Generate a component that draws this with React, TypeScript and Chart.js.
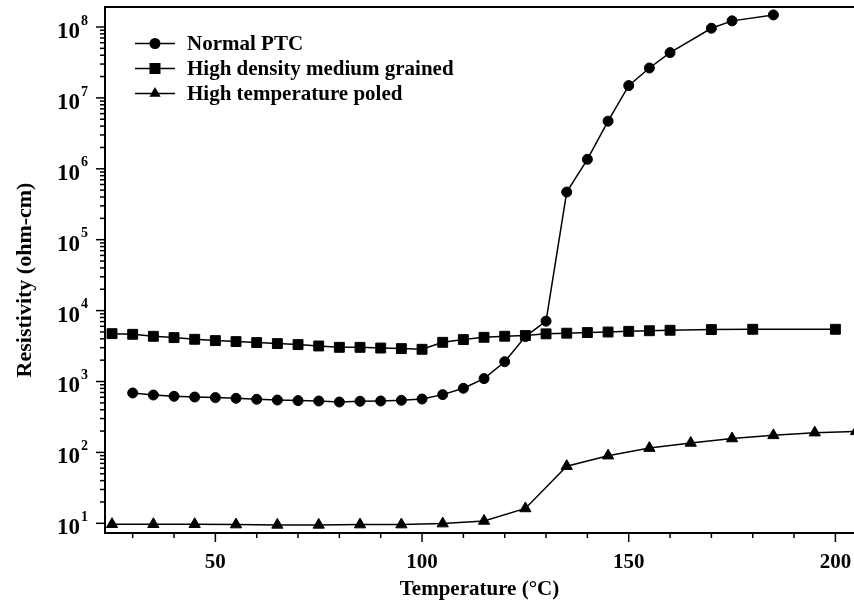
import React, { useEffect, useRef } from 'react';
import { Chart, registerables } from 'chart.js';

Chart.register(...registerables);

// ---------- data ----------
const normalTemps = [30, 35, 40, 45, 50, 55, 60, 65, 70, 75, 80, 85, 90, 95, 100, 105, 110, 115, 120, 125, 130, 135, 140, 145, 150, 155, 160, 170, 175, 185];
const normalPTC = [689, 645, 618, 604, 593, 579, 561, 548, 538, 531, 514, 526, 531, 543, 566, 653, 802, 1099, 1900, 4300, 7100, 4.7e5, 1.36e6, 4.7e6, 1.49e7, 2.64e7, 4.35e7, 9.6e7, 1.22e8, 1.48e8];

const densityTemps = [25, 30, 35, 40, 45, 50, 55, 60, 65, 70, 75, 80, 85, 90, 95, 100, 105, 110, 115, 120, 125, 130, 135, 140, 145, 150, 155, 160, 170, 180, 200];
const highDensity = [4730, 4630, 4340, 4160, 3940, 3775, 3655, 3540, 3425, 3315, 3170, 3035, 3035, 2965, 2910, 2845, 3570, 3900, 4200, 4350, 4450, 4700, 4800, 4900, 4990, 5100, 5200, 5280, 5400, 5450, 5450];

const poledTemps = [25, 35, 45, 55, 65, 75, 85, 95, 105, 115, 125, 135, 145, 155, 165, 175, 185, 195, 205];
const highTempPoled = [9.7, 9.7, 9.7, 9.6, 9.5, 9.5, 9.6, 9.6, 9.9, 10.8, 16.2, 64, 90, 115, 136, 157, 174, 190, 198];

const seriesNames = ['Normal PTC', 'High density medium grained', 'High temperature poled'];
const seriesShapes = ['circle', 'rect', 'triangle'];

const xTickValues = [30, 40, 50, 60, 70, 80, 90, 100, 110, 120, 130, 140, 150, 160, 170, 180, 190, 200];
const xLabelValues = [50, 100, 150, 200];
const yExponents = [1, 2, 3, 4, 5, 6, 7, 8];

const xTitle = 'Temperature (°C)';
const yTitle = 'Resistivity (ohm-cm)';

const FONT = '"Liberation Serif", "Times New Roman", serif';

const toPoints = (xs: number[], ys: number[]) => xs.map((x, i) => ({ x, y: ys[i] }));

function drawShape(ctx: CanvasRenderingContext2D, shape: string, x: number, y: number) {
  ctx.beginPath();
  if (shape === 'circle') {
    ctx.arc(x, y, 5.5, 0, Math.PI * 2);
  } else if (shape === 'rect') {
    ctx.rect(x - 5.5, y - 5.5, 11, 11);
  } else {
    const r = 6.5;
    ctx.moveTo(x, y - r);
    ctx.lineTo(x + r * 0.866, y + r * 0.5);
    ctx.lineTo(x - r * 0.866, y + r * 0.5);
    ctx.closePath();
  }
  ctx.fill();
}

const decorPlugin = {
  id: 'decor',
  afterDraw(chart: any) {
    const ctx: CanvasRenderingContext2D = chart.ctx;
    const { left, right, top, bottom } = chart.chartArea;
    const xs = chart.scales.x;
    const ys = chart.scales.y;
    ctx.save();
    ctx.strokeStyle = '#000';
    ctx.fillStyle = '#000';

    // top frame line
    ctx.lineWidth = 2;
    ctx.beginPath();
    ctx.moveTo(left - 1, top);
    ctx.lineTo(right, top);
    ctx.stroke();

    // x tick marks
    ctx.lineWidth = 1.5;
    xTickValues.forEach((v) => {
      const px = xs.getPixelForValue(v);
      const len = v % 50 === 0 ? 9 : 5;
      ctx.beginPath();
      ctx.moveTo(px, bottom);
      ctx.lineTo(px, bottom + len);
      ctx.stroke();
    });

    // y tick marks (major + minor)
    for (let e = 1; e <= 8; e++) {
      const major = Math.pow(10, e);
      const py = ys.getPixelForValue(major);
      ctx.beginPath();
      ctx.moveTo(left - 9, py);
      ctx.lineTo(left, py);
      ctx.stroke();
      for (let m = 2; m <= 9; m++) {
        const v = m * major;
        if (v > ys.max) break;
        const pm = ys.getPixelForValue(v);
        ctx.beginPath();
        ctx.moveTo(left - 5, pm);
        ctx.lineTo(left, pm);
        ctx.stroke();
      }
    }

    // y tick labels 10^n
    yExponents.forEach((e) => {
      const py = ys.getPixelForValue(Math.pow(10, e));
      ctx.font = `bold 23px ${FONT}`;
      ctx.textAlign = 'right';
      ctx.textBaseline = 'middle';
      ctx.fillText('10', 80, py + 5);
      ctx.font = `bold 14px ${FONT}`;
      ctx.textAlign = 'left';
      ctx.fillText(String(e), 81, py - 6);
    });

    // y axis title
    ctx.save();
    ctx.translate(31, 280);
    ctx.rotate(-Math.PI / 2);
    ctx.font = `bold 22px ${FONT}`;
    ctx.textAlign = 'center';
    ctx.textBaseline = 'alphabetic';
    ctx.fillText(yTitle, 0, 0);
    ctx.restore();

    // legend
    const rowsY = [43.5, 68.5, 93.5];
    seriesNames.forEach((name, i) => {
      const y = rowsY[i];
      ctx.lineWidth = 1.5;
      ctx.beginPath();
      ctx.moveTo(135, y);
      ctx.lineTo(175, y);
      ctx.stroke();
      drawShape(ctx, seriesShapes[i], 155, y);
      ctx.font = `bold 21px ${FONT}`;
      ctx.textAlign = 'left';
      ctx.textBaseline = 'alphabetic';
      ctx.fillText(name, 187, y + 6.5);
    });
    ctx.restore();
  },
};

export default function App() {
  const canvasRef = useRef<HTMLCanvasElement | null>(null);

  useEffect(() => {
    if (!canvasRef.current) return;
    const common = {
      borderColor: '#000',
      backgroundColor: '#000',
      borderWidth: 1.5,
      pointBackgroundColor: '#000',
      pointBorderColor: '#000',
      pointBorderWidth: 1,
      tension: 0,
      fill: false,
    };
    const chart = new Chart(canvasRef.current, {
      type: 'line',
      data: {
        datasets: [
          { ...common, label: seriesNames[0], data: toPoints(normalTemps, normalPTC), pointStyle: 'circle', pointRadius: 5 },
          { ...common, label: seriesNames[1], data: toPoints(densityTemps, highDensity), pointStyle: 'rect', pointRadius: 7 },
          { ...common, label: seriesNames[2], data: toPoints(poledTemps, highTempPoled), pointStyle: 'triangle', pointRadius: 6.5 },
        ],
      },
      options: {
        animation: false,
        responsive: true,
        maintainAspectRatio: false,
        layout: { autoPadding: false, padding: { top: 7, right: 0, bottom: 0, left: 0 } },
        plugins: {
          legend: { display: false },
          tooltip: { enabled: false },
        },
        scales: {
          x: {
            type: 'linear',
            min: 23.3,
            max: 204.5,
            afterBuildTicks: (scale: any) => {
              scale.ticks = xTickValues.map((v) => ({ value: v }));
            },
            afterFit: (scale: any) => {
              scale.height = 70;
              scale.paddingLeft = 0;
              scale.paddingRight = 0;
            },
            grid: { display: false, drawTicks: false },
            border: { display: true, color: '#000', width: 2 },
            ticks: {
              autoSkip: false,
              maxRotation: 0,
              padding: 17,
              color: '#000',
              font: { family: FONT, size: 21, weight: 'bold' },
              callback: (v: any) => (xLabelValues.includes(Number(v)) ? String(v) : ''),
            },
            title: {
              display: true,
              text: xTitle,
              color: '#000',
              font: { family: FONT, size: 21, weight: 'bold' },
              padding: { top: 0, bottom: 1 },
            },
          },
          y: {
            type: 'logarithmic',
            min: 7.3,
            max: 1.914e8,
            afterFit: (scale: any) => {
              scale.width = 105;
              scale.paddingTop = 0;
              scale.paddingBottom = 0;
            },
            grid: { display: false, drawTicks: false },
            border: { display: true, color: '#000', width: 2 },
            ticks: { display: false },
            title: { display: false },
          },
        },
      },
      plugins: [decorPlugin],
    } as any);
    return () => chart.destroy();
  }, []);

  return (
    <div style={{ position: 'absolute', left: 0, top: 0, width: 854, height: 603, background: '#fff' }}>
      <canvas ref={canvasRef} />
    </div>
  );
}
